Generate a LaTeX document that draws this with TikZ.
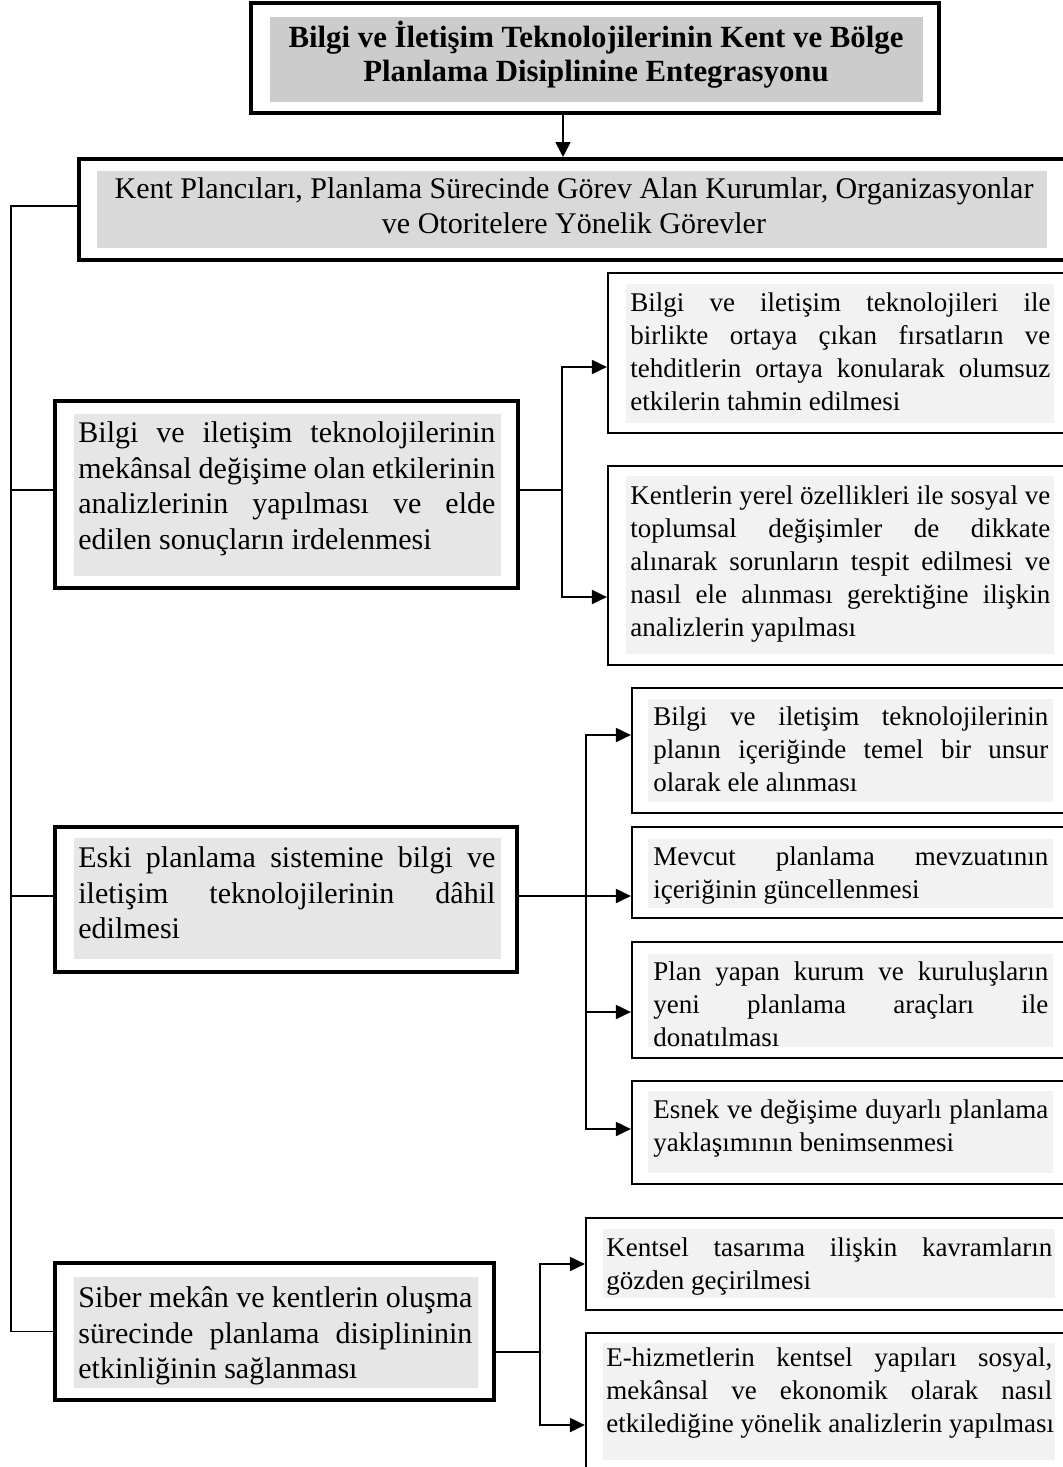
\documentclass[tikz,border=0pt]{standalone}
\usepackage{fontspec}
\setmainfont{Liberation Serif}
\usetikzlibrary{arrows.meta,fit}
\definecolor{gT}{HTML}{CCCCCC}
\definecolor{gK}{HTML}{D9D9D9}
\definecolor{gL}{HTML}{E6E6E6}
\definecolor{gR}{HTML}{F2F2F2}
\newcommand\jl[1]{\par\noindent\hbox to\linewidth{\spaceskip=0.25em plus 3em minus 0.1em\strut#1}\par}
\newcommand\lastln[1]{\par\noindent\hbox{\spaceskip=0.25em minus 0.1em\strut#1}\par}
\newcommand\rfont{\fontsize{13.5}{16.5}\selectfont}
\newcommand\lfont{\fontsize{15}{17.75}\selectfont}
\begin{document}
\begin{tikzpicture}[x=0.5pt,y=-0.5pt,
  frameT/.style={draw, line width=2pt, inner sep=0pt},
  frameL/.style={draw, line width=1.6pt, inner sep=0pt},
  frameR/.style={draw, line width=1.1pt, inner sep=0pt},
  grayfill/.style={fill=#1, draw=none, inner sep=0pt},
  txtR/.style={anchor=north west, inner sep=0pt, text width=#1, font=\rfont},
  txtL/.style={anchor=north west, inner sep=0pt, text width=#1, font=\lfont},
  conn/.style={line width=1pt},
  spine/.style={line width=0.9pt},
  arr/.style={line width=1pt, -{Triangle[length=7.5pt,width=7pt]}},
  arrT/.style={line width=0.85pt, -{Triangle[length=7.5pt,width=7.5pt]}}
]
\path[use as bounding box] (0,0) rectangle (1063,1467);
\clip (0,0) rectangle (1063,1467);

% gray fills
\node[grayfill=gT, fit={(270,17) (923,102)}] (Tg) {};
\node[grayfill=gK, fit={(97,171) (1047,248)}] (Kg) {};
\node[grayfill=gL, fit={(74,414) (501,576)}] (Ag) {};
\node[grayfill=gL, fit={(74,838) (501,959)}] (Bg) {};
\node[grayfill=gL, fit={(74,1277) (478,1388)}] (Cg) {};
\node[grayfill=gR, fit={(626,284) (1054,423)}] (A1g) {};
\node[grayfill=gR, fit={(626,476) (1054,654)}] (A2g) {};
\node[grayfill=gR, fit={(648,699) (1053,802)}] (B1g) {};
\node[grayfill=gR, fit={(648,839) (1053,908)}] (B2g) {};
\node[grayfill=gR, fit={(648,954) (1053,1047)}] (B3g) {};
\node[grayfill=gR, fit={(648,1091) (1053,1173)}] (B4g) {};
\node[grayfill=gR, fit={(603,1229) (1055,1298)}] (C1g) {};
\node[grayfill=gR, fit={(603,1343) (1055,1460)}] (C2g) {};

% frames
\node[frameT, fit={(251,3) (939,113)}] (T) {};
\node[frameT, fit={(79,159) (1080,260)}] (K) {};
\node[frameL, fit={(55,401) (518,588)}] (A) {};
\node[frameL, fit={(55,827) (517,972)}] (B) {};
\node[frameL, fit={(55,1263) (494,1400)}] (C) {};
\node[frameR, fit={(608,273) (1080,433)}] (A1) {};
\node[frameR, fit={(608,466) (1080,665)}] (A2) {};
\node[frameR, fit={(632,688) (1080,813)}] (B1) {};
\node[frameR, fit={(632,827) (1080,918)}] (B2) {};
\node[frameR, fit={(632,942) (1080,1058)}] (B3) {};
\node[frameR, fit={(632,1081) (1080,1184)}] (B4) {};
\node[frameR, fit={(586,1218) (1080,1310)}] (C1) {};
\node[frameR, fit={(586,1333) (1080,1517)}] (C2) {};

% texts
\node[align=center, inner sep=0pt, font={\fontsize{15.4}{17}\selectfont\bfseries}] (Tt) at (596,55)
  {Bilgi ve İletişim Teknolojilerinin Kent ve Bölge\\Planlama Disiplinine Entegrasyonu};
\node[align=center, inner sep=0pt, font={\fontsize{15}{17.5}\selectfont}] (Kt) at (574,206)
  {Kent Plancıları, Planlama Sürecinde Görev Alan Kurumlar, Organizasyonlar\\ve Otoritelere Yönelik Görevler};

\node[txtL=208.5pt] (At) at (78,407) {%
  \jl{Bilgi ve iletişim teknolojilerinin}%
  \jl{mekânsal değişime olan etkilerinin}%
  \jl{analizlerinin yapılması ve elde}%
  \lastln{edilen sonuçların irdelenmesi}};
\node[txtL=208.5pt] (Bt) at (78,832) {%
  \jl{Eski planlama sistemine bilgi ve}%
  \jl{iletişim teknolojilerinin dâhil}%
  \lastln{edilmesi}};
\node[txtL=197pt] (Ct) at (78,1272) {%
  \jl{Siber mekân ve kentlerin oluşma}%
  \jl{sürecinde planlama disiplininin}%
  \lastln{etkinliğinin sağlanması}};

\node[txtR=210pt] (A1t) at (630,278) {%
  \jl{Bilgi ve iletişim teknolojileri ile}%
  \jl{birlikte ortaya çıkan fırsatların ve}%
  \jl{tehditlerin ortaya konularak olumsuz}%
  \lastln{etkilerin tahmin edilmesi}};
\node[txtR=210pt] (A2t) at (630,471) {%
  \jl{Kentlerin yerel özellikleri ile sosyal ve}%
  \jl{toplumsal değişimler de dikkate}%
  \jl{alınarak sorunların tespit edilmesi ve}%
  \jl{nasıl ele alınması gerektiğine ilişkin}%
  \lastln{analizlerin yapılması}};
\node[txtR=197.5pt] (B1t) at (653,692) {%
  \jl{Bilgi ve iletişim teknolojilerinin}%
  \jl{planın içeriğinde temel bir unsur}%
  \lastln{olarak ele alınması}};
\node[txtR=197.5pt] (B2t) at (653,832) {%
  \jl{Mevcut planlama mevzuatının}%
  \lastln{içeriğinin güncellenmesi}};
\node[txtR=197.5pt] (B3t) at (653,947) {%
  \jl{Plan yapan kurum ve kuruluşların}%
  \jl{yeni planlama araçları ile}%
  \lastln{donatılması}};
\node[txtR=197.5pt] (B4t) at (653,1085) {%
  \jl{Esnek ve değişime duyarlı planlama}%
  \lastln{yaklaşımının benimsenmesi}};
\node[txtR=223pt] (C1t) at (606,1223) {%
  \jl{Kentsel tasarıma ilişkin kavramların}%
  \lastln{gözden geçirilmesi}};
\node[txtR=223pt] (C2t) at (606,1333) {%
  \jl{E-hizmetlerin kentsel yapıları sosyal,}%
  \jl{mekânsal ve ekonomik olarak nasıl}%
  \lastln{etkilediğine yönelik analizlerin yapılması}};

% helper coordinates
\coordinate (tx) at (563,0);
\coordinate (sp) at (11,0);
\coordinate (ja) at (562,0);
\coordinate (jb) at (586,0);
\coordinate (jc) at (540,0);
\coordinate (Kin) at ([yshift=1.75pt]K.west);
\coordinate (Ain) at ([yshift=2.25pt]A.west);
\coordinate (Bin) at ([yshift=1.75pt]B.west);
\coordinate (Aout) at ([yshift=2.25pt]A.east);
\coordinate (Bout) at ([yshift=1.75pt]B.east);
\coordinate (Cout) at ([yshift=-10.25pt]C.east);
\coordinate (a1in) at ([yshift=-7pt]A1.west);
\coordinate (a2in) at ([yshift=-15.75pt]A2.west);
\coordinate (b1in) at ([yshift=7.75pt]B1.west);
\coordinate (b3in) at ([yshift=-6pt]B3.west);
\coordinate (b4in) at ([yshift=1.75pt]B4.west);

% connectors
\draw[arrT] (T.south -| tx) -- (K.north -| tx);
\draw[spine] (Kin) -- (sp |- Kin) -- (sp |- C.west) -- (C.west);
\draw[spine] (sp |- Ain) -- (Ain);
\draw[spine] (sp |- Bin) -- (Bin);

\draw[arr] (Aout) -| (ja |- a1in) -- (a1in);
\draw[arr] (ja |- Aout) |- (a2in);

\draw[arr] (Bout) -- (B2.west |- Bout);
\draw[arr] (jb |- Bout) |- (b1in);
\draw[arr] (jb |- Bout) |- (b3in);
\draw[arr] (jb |- Bout) |- (b4in);

\draw[arr] (Cout) -| (jc |- C1.west) -- (C1.west);
\draw[arr] (jc |- Cout) |- (C2.west);
\end{tikzpicture}
\end{document}
